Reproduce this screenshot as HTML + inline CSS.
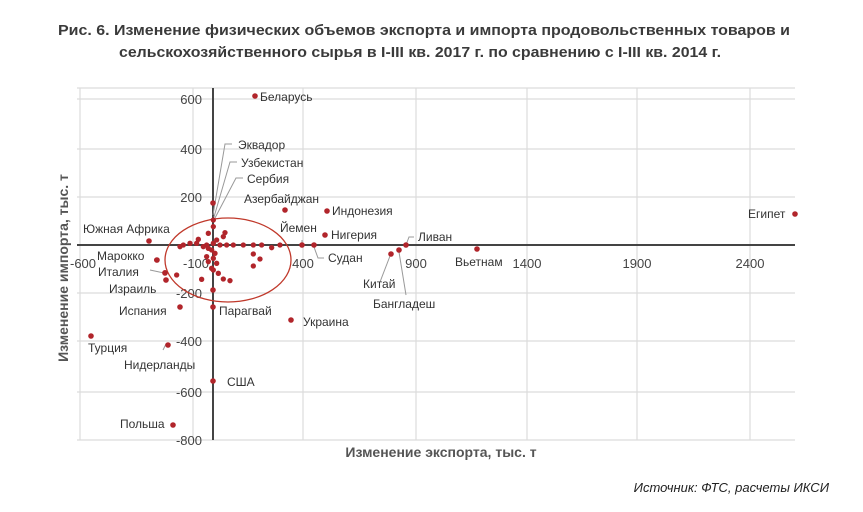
<!DOCTYPE html>
<html><head><meta charset="utf-8"><style>body{margin:0;background:#fff}svg{display:block}</style></head>
<body>
<svg width="863" height="512" xmlns="http://www.w3.org/2000/svg" font-family="Liberation Sans, sans-serif">
<rect width="863" height="512" fill="#fff"/>
<g font-weight="bold" fill="#3a3a3a" font-size="15" text-anchor="middle">
<text x="424" y="35" textLength="732" lengthAdjust="spacingAndGlyphs">Рис. 6. Изменение физических объемов экспорта и импорта продовольственных товаров и</text>
<text x="420" y="57" textLength="602" lengthAdjust="spacingAndGlyphs">сельскохозяйственного сырья в I-III кв. 2017 г. по сравнению с I-III кв. 2014 г.</text>
</g>
<!-- grid -->
<g stroke="#dcdcdc" stroke-width="1.2">
<line x1="77" y1="88" x2="795" y2="88"/>
<line x1="77" y1="99" x2="795" y2="99"/>
<line x1="77" y1="149" x2="795" y2="149"/>
<line x1="77" y1="197" x2="795" y2="197"/>
<line x1="77" y1="293" x2="795" y2="293"/>
<line x1="77" y1="341" x2="795" y2="341"/>
<line x1="77" y1="392" x2="795" y2="392"/>
<line x1="77" y1="440" x2="795" y2="440"/>
<line x1="80" y1="88" x2="80" y2="440"/>
<line x1="193" y1="88" x2="193" y2="440"/>
<line x1="303" y1="88" x2="303" y2="440"/>
<line x1="416" y1="88" x2="416" y2="440"/>
<line x1="527" y1="88" x2="527" y2="440"/>
<line x1="637" y1="88" x2="637" y2="440"/>
<line x1="750" y1="88" x2="750" y2="440"/>
</g>
<line x1="77" y1="245" x2="795" y2="245" stroke="#444" stroke-width="2"/>
<line x1="213" y1="88" x2="213" y2="440" stroke="#444" stroke-width="2"/>
<!-- tick labels -->
<g font-size="13" fill="#444" text-anchor="end">
<text x="202" y="104">600</text><text x="202" y="154">400</text><text x="202" y="202">200</text>
<text x="202" y="298">-200</text><text x="202" y="346">-400</text><text x="202" y="397">-600</text><text x="202" y="445">-800</text>
</g>
<g font-size="13" fill="#444" text-anchor="middle">
<text x="83" y="268">-600</text><text x="196" y="268">-100</text><text x="303" y="268">400</text>
<text x="416" y="268">900</text><text x="527" y="268">1400</text><text x="637" y="268">1900</text><text x="750" y="268">2400</text>
</g>
<!-- ellipse -->
<ellipse cx="228" cy="260" rx="63" ry="42" fill="none" stroke="#c0392b" stroke-width="1.3"/>
<!-- leader lines -->
<g stroke="#999" fill="none" stroke-width="1">
<polyline points="213,215 225,144 232,144"/>
<polyline points="214,217 230,162 237,162"/>
<polyline points="215,218 236,178 243,178"/>
<polyline points="302,245 302,240"/>
<polyline points="314,247 318,258 324,258"/>
<polyline points="406,245 409,237 414,237"/>
<polyline points="399,252 406,295"/>
<polyline points="390,256 380,282"/>
<polyline points="164,273 150,270"/>
<polyline points="166,344 163,350"/>
</g>
<!-- points -->
<g fill="#b1252b">
<circle cx="255" cy="96" r="2.8"/><circle cx="795" cy="214" r="2.8"/><circle cx="327" cy="211" r="2.8"/>
<circle cx="285" cy="210" r="2.8"/><circle cx="325" cy="235" r="2.8"/><circle cx="302" cy="245" r="2.8"/>
<circle cx="314" cy="245" r="2.8"/><circle cx="406" cy="245" r="2.8"/><circle cx="399" cy="250" r="2.8"/>
<circle cx="391" cy="254" r="2.8"/><circle cx="477" cy="249" r="2.8"/><circle cx="149" cy="241" r="2.8"/>
<circle cx="157" cy="260" r="2.8"/><circle cx="165" cy="273" r="2.8"/><circle cx="166" cy="280" r="2.8"/>
<circle cx="180" cy="307" r="2.8"/><circle cx="91" cy="336" r="2.8"/><circle cx="168" cy="345" r="2.8"/>
<circle cx="173" cy="425" r="2.8"/><circle cx="213" cy="381" r="2.8"/><circle cx="213" cy="307" r="2.8"/>
<circle cx="291" cy="320" r="2.8"/><circle cx="213" cy="203" r="2.8"/><circle cx="213" cy="290" r="2.8"/>
<g transform="translate(60,80) scale(0.3333)">
<circle cx="460" cy="420" r="8"/><circle cx="460" cy="440" r="8"/><circle cx="445" cy="460" r="8"/><circle cx="415" cy="478" r="8"/>
<circle cx="495" cy="458" r="8"/><circle cx="490" cy="470" r="8"/><circle cx="470" cy="480" r="8"/><circle cx="460" cy="490" r="8"/>
<circle cx="440" cy="495" r="8"/><circle cx="480" cy="495" r="8"/><circle cx="500" cy="495" r="8"/><circle cx="520" cy="495" r="8"/>
<circle cx="550" cy="495" r="8"/><circle cx="580" cy="495" r="8"/><circle cx="605" cy="495" r="8"/><circle cx="635" cy="503" r="8"/>
<circle cx="660" cy="495" r="8"/><circle cx="390" cy="490" r="8"/><circle cx="370" cy="495" r="8"/><circle cx="360" cy="500" r="8"/>
<circle cx="410" cy="490" r="8"/><circle cx="430" cy="500" r="8"/><circle cx="445" cy="505" r="8"/><circle cx="455" cy="510" r="8"/>
<circle cx="465" cy="520" r="8"/><circle cx="440" cy="530" r="8"/><circle cx="460" cy="535" r="8"/><circle cx="445" cy="545" r="8"/>
<circle cx="470" cy="550" r="8"/><circle cx="455" cy="565" r="8"/><circle cx="460" cy="570" r="8"/><circle cx="350" cy="585" r="8"/>
<circle cx="425" cy="598" r="8"/><circle cx="475" cy="580" r="8"/><circle cx="490" cy="597" r="8"/><circle cx="510" cy="602" r="8"/>
<circle cx="580" cy="522" r="8"/><circle cx="600" cy="537" r="8"/><circle cx="580" cy="558" r="8"/><circle cx="290" cy="540" r="8"/>
<circle cx="318" cy="600" r="8"/><circle cx="315" cy="578" r="8"/>
</g>
</g>
<!-- labels -->
<g font-size="12" fill="#333">
<text x="260" y="101">Беларусь</text>
<text x="238" y="149">Эквадор</text>
<text x="241" y="167">Узбекистан</text>
<text x="247" y="183">Сербия</text>
<text x="244" y="203">Азербайджан</text>
<text x="332" y="215">Индонезия</text>
<text x="331" y="239">Нигерия</text>
<text x="280" y="232">Йемен</text>
<text x="328" y="262">Судан</text>
<text x="418" y="241">Ливан</text>
<text x="455" y="266">Вьетнам</text>
<text x="363" y="288">Китай</text>
<text x="373" y="308">Бангладеш</text>
<text x="748" y="218">Египет</text>
<text x="83" y="233">Южная Африка</text>
<text x="97" y="260">Марокко</text>
<text x="98" y="276">Италия</text>
<text x="109" y="293">Израиль</text>
<text x="119" y="315">Испания</text>
<text x="88" y="352">Турция</text>
<text x="124" y="369">Нидерланды</text>
<text x="120" y="428">Польша</text>
<text x="227" y="386">США</text>
<text x="219" y="315">Парагвай</text>
<text x="303" y="326">Украина</text>
</g>
<text x="441" y="457" font-size="14" font-weight="bold" fill="#555" text-anchor="middle">Изменение экспорта, тыс. т</text>
<text transform="translate(68,268) rotate(-90)" font-size="14" font-weight="bold" fill="#555" text-anchor="middle">Изменение импорта, тыс. т</text>
<text x="829" y="492" font-size="13" font-style="italic" fill="#222" text-anchor="end">Источник: ФТС, расчеты ИКСИ</text>
</svg>
</body></html>
